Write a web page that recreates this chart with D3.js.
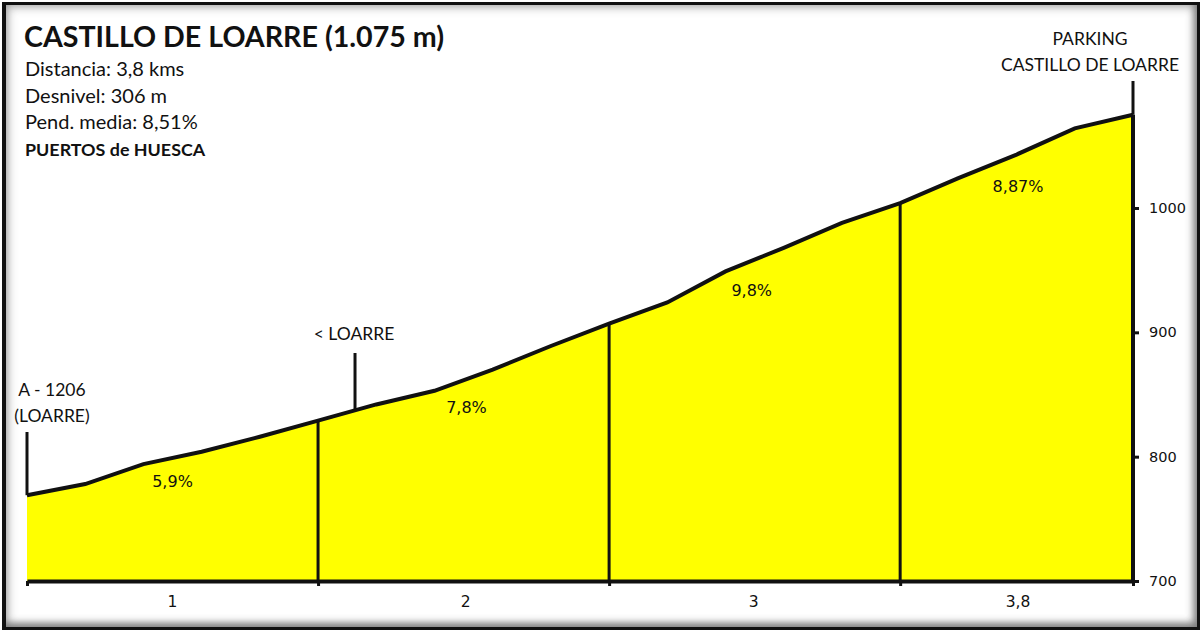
<!DOCTYPE html>
<html>
<head>
<meta charset="utf-8">
<script src="https://cdn.jsdelivr.net/npm/d3@7"></script>
<style>
html, body { margin: 0; padding: 0; background: #fff; }
#frame { position: absolute; left: 2px; top: 2px; width: 1191px; height: 622px; border: solid #111; border-width: 3px 4px 4px 4px; box-shadow: inset 0 0 10px 2px rgba(90,90,90,.5), inset -3px -4px 7px 0 rgba(70,70,70,.55); }
svg { position: absolute; left: 0; top: 0; }
text { fill: #111; font-family: Lato, "Open Sans", sans-serif; }
</style>
</head>
<body>
<div id="frame"></div>
<svg id="chart" width="1200" height="630"></svg>
<script>
// profile of the climb, one point every 200 m
const km = [0, 0.2, 0.4, 0.6, 0.8, 1, 1.2, 1.4, 1.6, 1.8, 2, 2.2, 2.4, 2.6, 2.8, 3, 3.2, 3.4, 3.6, 3.8];
const altitude = [769, 778, 794, 804, 816, 829, 842, 853, 870, 889, 907, 924, 949, 968, 988, 1004, 1024, 1043, 1064, 1075];

const altTicks = [700, 800, 900, 1000];
const kmTicks = [0, 1, 2, 3, 3.8];
const kmDividers = [1, 2, 3];

const kmLabels = ["1", "2", "3", "3,8"];
const kmLabelPos = [0.5, 1.507, 2.497, 3.405];

const slopeLabels = ["5,9%", "7,8%", "9,8%", "8,87%"];
const slopeKm = [0.5, 1.51, 2.49, 3.405];
const slopeAlt = [776, 835, 929, 1013];

const titleText = "CASTILLO DE LOARRE (1.075 m)";
const infoLines = ["Distancia: 3,8 kms", "Desnivel: 306 m", "Pend. media: 8,51%"];
const groupText = "PUERTOS de HUESCA";

const svg = d3.select("#chart");

const x = d3.scaleLinear().domain([0, 3.8]).range([27, 1133]);
const y = d3.scaleLinear().domain([700, 1000]).range([581, 208]);

const profile = km.map((d, i) => [d, altitude[i]]);

// yellow area under the profile
const area = d3.area().x(d => x(d[0])).y0(y(700)).y1(d => y(d[1]));
svg.append("path").attr("d", area(profile)).attr("fill", "#ffff00");

// altitude at any km, for the vertical lines
const altAt = d3.scaleLinear().domain(km).range(altitude);

svg.selectAll(".divider").data(kmDividers).join("line")
  .attr("class", "divider")
  .attr("x1", d => x(d)).attr("x2", d => x(d))
  .attr("y1", y(700)).attr("y2", d => y(altAt(d)))
  .attr("stroke", "#111").attr("stroke-width", 3);

// leader lines for the places
const places = [
  { km: 0, top: 432 },
  { km: 1.127, top: 353 },
  { km: 3.8, top: 81 }
];
svg.selectAll(".leader").data(places).join("line")
  .attr("class", "leader")
  .attr("x1", d => x(d.km)).attr("x2", d => x(d.km))
  .attr("y1", d => d.top).attr("y2", d => y(altAt(d.km)))
  .attr("stroke", "#111").attr("stroke-width", 3);

// the profile line
const line = d3.line().x(d => x(d[0])).y(d => y(d[1]));
svg.append("path").attr("d", line(profile))
  .attr("fill", "none").attr("stroke", "#111").attr("stroke-width", 4);

// axes
const xAxis = svg.append("g").attr("transform", "translate(0," + y(700) + ")")
  .call(d3.axisBottom(x).tickValues(kmTicks).tickSize(5).tickSizeOuter(0).tickFormat(""));
xAxis.select(".domain").attr("stroke", "#111").attr("stroke-width", 4);
xAxis.selectAll(".tick line").attr("stroke", "#111").attr("stroke-width", 3);

const yAxis = svg.append("g").attr("transform", "translate(" + x(3.8) + ",0)")
  .call(d3.axisRight(y).tickValues(altTicks).tickSize(6).tickSizeOuter(0).tickFormat(d3.format("d")));
yAxis.select(".domain").attr("d", "M0," + y(700) + "V" + y(altAt(3.8)))
  .attr("stroke", "#111").attr("stroke-width", 4);
yAxis.selectAll(".tick line").attr("stroke", "#111").attr("stroke-width", 3);
yAxis.selectAll(".tick text").attr("x", 16)
  .style("font-family", "'DejaVu Sans'").style("font-size", "14.5px").attr("fill", "#222");

// km labels under the axis
svg.selectAll(".kmlabel").data(kmLabels).join("text")
  .attr("class", "kmlabel")
  .attr("x", (d, i) => x(kmLabelPos[i])).attr("y", 607)
  .attr("text-anchor", "middle")
  .style("font-family", "'DejaVu Sans'").style("font-size", "15.5px")
  .text(d => d);

// slope of each km
svg.selectAll(".slope").data(slopeLabels).join("text")
  .attr("class", "slope")
  .attr("x", (d, i) => x(slopeKm[i])).attr("y", (d, i) => y(slopeAlt[i]))
  .attr("text-anchor", "middle")
  .style("font-family", "'DejaVu Sans'").style("font-size", "16px")
  .text(d => d);

// title block
svg.append("text").attr("x", 24).attr("y", 47)
  .style("font-size", "28.6px").style("font-weight", 700).text(titleText);
svg.selectAll(".info").data(infoLines).join("text")
  .attr("class", "info")
  .attr("x", 25).attr("y", (d, i) => 76 + i * 26.5)
  .style("font-size", "20px").text(d => d);
svg.append("text").attr("x", 25).attr("y", 156)
  .style("font-size", "17.9px").style("font-weight", 700).text(groupText);

// place names
const placeNames = [
  { text: "A - 1206", x: 52, y: 396 },
  { text: "(LOARRE)", x: 52, y: 422 },
  { text: "< LOARRE", x: 354, y: 340 },
  { text: "PARKING", x: 1090, y: 45 },
  { text: "CASTILLO DE LOARRE", x: 1090, y: 71 }
];
svg.selectAll(".place").data(placeNames).join("text")
  .attr("class", "place")
  .attr("x", d => d.x).attr("y", d => d.y)
  .attr("text-anchor", "middle")
  .style("font-size", "17.5px")
  .text(d => d.text);
</script>
</body>
</html>
